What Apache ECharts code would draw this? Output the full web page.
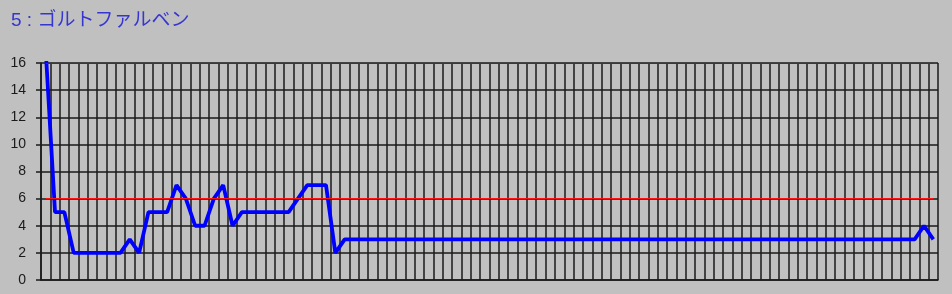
<!DOCTYPE html>
<html><head><meta charset="utf-8">
<style>html,body{margin:0;padding:0;background:#c0c0c0;}#c{width:952px;height:294px;}</style>
<script src="https://cdn.jsdelivr.net/npm/echarts@6/dist/echarts.min.js"></script>
</head><body><div id="c"></div>
<script>
const titleText = '5 : ゴルトファルベン';
const categories = Array.from({length: 96}, (_, i) => String(i + 1));
const values = [
  17, 5, 5, 2, 2, 2, 2, 2, 2, 3, 2, 5, 5, 5, 7, 6, 4, 4, 6, 7,
  4, 5, 5, 5, 5, 5, 5, 6, 7, 7, 7, 2, 3, 3, 3, 3, 3, 3, 3, 3,
  3, 3, 3, 3, 3, 3, 3, 3, 3, 3, 3, 3, 3, 3, 3, 3, 3, 3, 3, 3,
  3, 3, 3, 3, 3, 3, 3, 3, 3, 3, 3, 3, 3, 3, 3, 3, 3, 3, 3, 3,
  3, 3, 3, 3, 3, 3, 3, 3, 3, 3, 3, 3, 3, 3, 4, 3
];
const yTicks = [0, 2, 4, 6, 8, 10, 12, 14, 16];
const refLineRed = 6;
const refLineBlue = 16;

const chart = echarts.init(document.getElementById('c'), null, {renderer: 'canvas'});
chart.setOption({
  backgroundColor: '#c0c0c0',
  animation: false,
  title: {
    text: titleText, left: 6, top: 6,
    textStyle: {color: '#3535d2', fontSize: 19, fontWeight: 'normal', fontFamily: '"Liberation Sans", "Noto Sans CJK JP", sans-serif'}
  },
  grid: {left: 41, right: 14, top: 63, bottom: 14, containLabel: false},
  xAxis: {
    type: 'category', data: categories, boundaryGap: true,
    axisLine: {show: true, lineStyle: {color: '#1a1a1a', width: 1.5}},
    axisTick: {show: false}, axisLabel: {show: false},
    splitLine: {show: true, interval: 0, lineStyle: {color: '#1a1a1a', width: 1.5}}
  },
  yAxis: {
    type: 'value', min: yTicks[0], max: yTicks[yTicks.length - 1], interval: 2,
    axisLine: {show: true, lineStyle: {color: '#1a1a1a', width: 1.5}},
    axisTick: {show: true, length: 5, lineStyle: {color: '#1a1a1a', width: 1.5}},
    axisLabel: {color: '#1a1a1a', fontSize: 14, fontFamily: 'Liberation Sans, Arial, sans-serif', margin: 15},
    splitLine: {show: true, lineStyle: {color: '#1a1a1a', width: 1.5}}
  },
  series: [{
    type: 'line', data: values, symbol: 'none', clip: true,
    lineStyle: {color: '#0000ff', width: 3.8},
    markLine: {
      silent: true, symbol: 'none', label: {show: false},
      data: [
        [{coord: [0, refLineRed], lineStyle: {color: '#ff1010', width: 1.2, type: 'solid'}}, {coord: [categories.length - 1, refLineRed]}],
        [{coord: [0, refLineBlue], lineStyle: {color: '#2020ff', width: 1.2, type: 'solid'}}, {coord: [categories.length - 1, refLineBlue]}]
      ]
    }
  }]
});
</script></body></html>
